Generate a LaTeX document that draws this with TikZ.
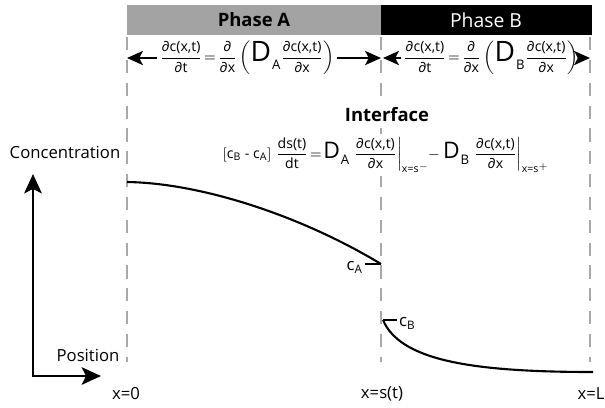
\documentclass[tikz,border=0pt]{standalone}
\usepackage{amsmath}
\usepackage{fontspec}
\setmainfont{Open Sans}
\usetikzlibrary{arrows.meta,positioning}
\definecolor{barra}{HTML}{A3A3A3}
\definecolor{guia}{HTML}{A8A8A8}
\newcommand{\pd}{\text{∂}}
\newcommand{\Dsub}[2][16]{\text{\fontsize{#1}{#1}\selectfont D\kern0.5pt\raisebox{-0.3em}{\fontsize{7.5}{8}\selectfont #2}}}

\begin{document}
\begin{tikzpicture}[x=0.02cm,y=-0.02cm,line cap=butt,
    guide/.style={guia,line width=1.1pt,dash pattern=on 7.5pt off 5.5pt},
    eqn/.style={fill=white,inner sep=2pt,font=\fontsize{8}{10}\selectfont},
    flux/.style={line width=1.2pt,-{Stealth[length=9pt,width=8pt,inset=2pt]}},
    axis/.style={line width=1.2pt,{Stealth[length=11pt,width=10pt,inset=2.5pt]}-{Stealth[length=11pt,width=10pt,inset=2.5pt]}},
    profile/.style={line width=1.2pt},
    lbl/.style={font=\fontsize{9.5}{11}\selectfont}]
  \useasboundingbox (0,0) rectangle (605,407);
  % phase headers
  \fill[barra] (127,5) rectangle (381,35);
  \fill[black] (381,5) rectangle (592,35);
  \node[font=\bfseries\fontsize{10.5}{12}\selectfont] (phA) at (254,20) {Phase A};
  \node[white,font=\fontsize{11}{12}\selectfont] (phB) at (486,20) {Phase B};
  % guides at x=0, x=s(t), x=L
  \foreach \x in {127,381,590}
    \draw[guide] (\x,37) -- (\x,362);
  % diffusion in each phase
  \coordinate (wallA) at (127,58);
  \coordinate (sA) at (381,58);
  \coordinate (sB) at (383,58);
  \coordinate (wallB) at (590,58);
  \node[eqn,fill=none,inner sep=1pt] (eqA) at (247,58)
    {$\dfrac{\text{∂c(x,t)}}{\text{∂t}}\!=\!\dfrac{\pd}{\text{∂x}}\left(\Dsub{A}\dfrac{\text{∂c(x,t)}}{\text{∂x}}\right)$};
  \node[eqn,fill=none,inner sep=1pt] (eqB) at (491,58)
    {$\dfrac{\text{∂c(x,t)}}{\text{∂t}}\!=\!\dfrac{\pd}{\text{∂x}}\left(\Dsub{B}\dfrac{\text{∂c(x,t)}}{\text{∂x}}\right)$};
  \draw[flux] (eqA.west) -- (wallA);
  \draw[flux] (eqA.east) -- (sA);
  \draw[flux] (eqB.west) -- (sB);
  \draw[flux] (eqB.east) -- (wallB);
  % interface condition
  \node[fill=white,inner sep=1pt,font=\bfseries\fontsize{10.5}{12}\selectfont] (iface) at (387,115) {Interface};
  \node[eqn,font=\fontsize{8}{10}\selectfont] (ieq) at (386,155)
    {$[\text{c}_{\text{B}}\text{ - c}_{\text{A}}]\;\dfrac{\text{ds(t)}}{\text{dt}}\!=\!\Dsub[13]{A}\left.\dfrac{\text{∂c(x,t)}}{\text{∂x}}\right|_{\text{x=s}^{-}}\!\!-\Dsub[13]{B}\left.\dfrac{\text{∂c(x,t)}}{\text{∂x}}\right|_{\text{x=s}^{+}}$};
  % axes
  \coordinate (origin) at (33,376);
  \coordinate (ytip) at (33,174);
  \coordinate (xtip) at (101,376);
  \draw[axis] (ytip) -- (origin) -- (xtip);
  \node[lbl] (conc) at (65,152) {Concentration};
  \node[lbl] (pos) at (88,355) {Position};
  \node[lbl] (x0) at (126,394) {x=0};
  \node[lbl] (xs) at (382,394) {x=s(t)};
  \node[lbl] (xL) at (591,394) {x=L};
  % concentration profiles
  \coordinate (cA0) at (127,182);
  \coordinate (cAs) at (381,264);
  \coordinate (cBs) at (383,320);
  \coordinate (cBL) at (593,372);
  \draw[profile] (cA0) .. controls (200,183) and (300,215) .. (cAs);
  \draw[profile] (cBs) .. controls (400,360) and (470,372) .. (cBL);
  \node[lbl,anchor=east,inner sep=1pt] (cA) at (365,267) {c$_{\text{A}}$};
  \node[lbl,anchor=west,inner sep=1pt] (cB) at (397,323) {c$_{\text{B}}$};
  \draw[line width=0.8pt] (cA.east |- cAs) -- (cAs);
  \draw[line width=0.8pt] (cBs) -- (cB.west |- cBs);
\end{tikzpicture}
\end{document}
